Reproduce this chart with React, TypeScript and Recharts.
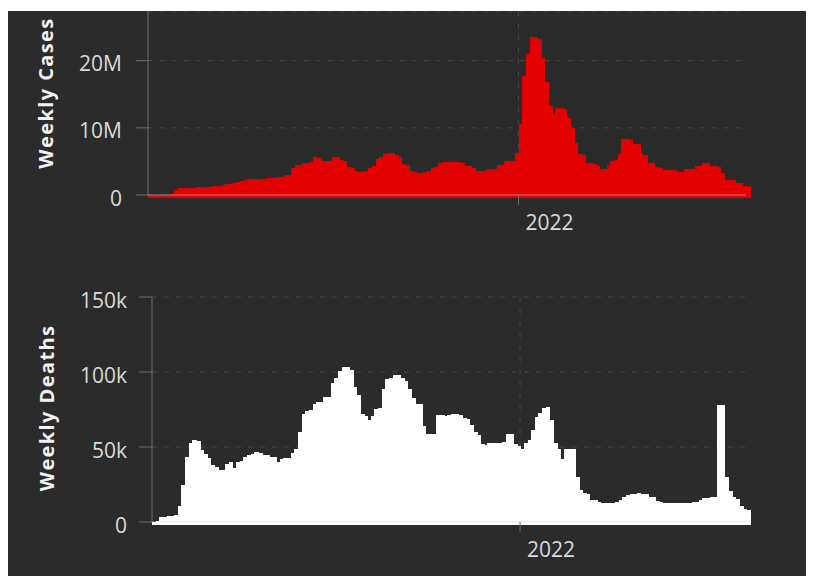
import React from "react";
import { BarChart, Bar, XAxis, YAxis, CartesianGrid } from "recharts";

// weekly totals, first bar = week starting 2020-01-25
const FIRST_WEEK = Date.UTC(2020, 0, 25);
const WEEK_MS = 7 * 24 * 3600 * 1000;
const yearTicks = [Date.UTC(2022, 0, 1)];

// weekly cases, millions
const casesM = [
  0.002, 0.005, 0.01, 0.015, 0.02, 0.04, 0.1, 0.75, 1.0, 1.05,
  1.1, 1.1, 1.1, 1.12, 1.15, 1.15, 1.2, 1.35, 1.4, 1.4,
  1.45, 1.65, 1.7, 1.75, 2.0, 2.05, 2.3, 2.35, 2.4, 2.4,
  2.4, 2.45, 2.5, 2.6, 2.6, 2.65, 2.7, 3.0, 3.05, 4.0,
  4.4, 4.5, 4.8, 4.8, 4.85, 5.6, 5.5, 5.1, 5.0, 5.1,
  5.6, 5.6, 5.2, 5.0, 4.1, 4.0, 3.5, 3.4, 3.4, 3.5,
  4.0, 4.3, 5.3, 5.6, 6.1, 6.2, 6.2, 6.0, 5.6, 4.6,
  4.4, 3.6, 3.4, 3.25, 3.25, 3.4, 3.6, 4.0, 4.1, 4.7,
  4.9, 4.9, 4.9, 4.9, 4.9, 4.8, 4.3, 4.3, 4.0, 3.6,
  3.6, 3.6, 3.8, 3.8, 3.9, 4.4, 4.5, 5.0, 5.0, 5.0,
  6.2, 10.6, 17.7, 21.0, 23.5, 23.5, 23.3, 20.4, 16.9, 13.2,
  12.0, 13.0, 13.0, 12.8, 11.5, 10.0, 7.8, 6.1, 6.0, 4.7,
  4.7, 4.6, 4.3, 3.85, 3.85, 4.4, 5.1, 5.2, 6.1, 8.3,
  8.3, 8.2, 7.6, 7.6, 6.1, 6.0, 4.8, 4.7, 4.1, 4.0,
  3.75, 3.75, 3.75, 3.75, 3.4, 3.4, 3.85, 3.85, 3.9, 4.3,
  4.3, 4.7, 4.7, 4.3, 4.3, 4.2, 3.25, 2.3, 2.3, 2.3,
  1.8, 1.8, 1.4, 1.4,
];

// weekly deaths, thousands
const deathsK = [
  0.3, 0.8, 3.4, 3.6, 3.7, 3.8, 5.0, 11, 25, 43.5,
  53, 54.5, 54, 48, 45.5, 43, 38, 36.5, 35, 34.5,
  39, 40, 36, 40, 40.5, 43.5, 44.5, 45.5, 46.5, 46,
  45, 44.5, 43.5, 43.5, 40, 42, 42.5, 42.5, 46, 49,
  59.8, 71.8, 74, 75, 79, 80, 80, 83.5, 83.5, 93,
  96, 101, 103.5, 103.5, 101.5, 90, 85, 72, 71, 68,
  71, 75.5, 76, 89, 95.5, 96, 98, 98, 96, 94,
  89, 82.5, 79, 78.5, 64, 58.5, 58.5, 58.5, 71.5, 71.5,
  70.5, 71.5, 72, 72, 71.5, 69.5, 68.5, 64.5, 60, 58,
  52, 51.5, 52.5, 53, 53, 53, 53.5, 58.5, 58.5, 52,
  51, 49, 53, 55, 61.5, 70, 73, 76, 76.5, 68,
  52.5, 49, 42, 49, 49, 49, 30, 21.5, 19.5, 18.5,
  15, 14.5, 13.5, 13, 12.8, 12.8, 12.9, 13.2, 15, 17,
  18, 18.5, 19, 19.2, 19, 18.5, 17, 16.5, 14.2, 13.2,
  12.9, 12.8, 12.8, 12.9, 12.9, 12.8, 12.8, 12.9, 13.1, 13.5,
  14.7, 15.8, 16.2, 16.4, 16.6, 78, 78, 30, 21, 16.5,
  15.5, 10.7, 8.5, 8.3,
];

const casesTicks = [0, 10, 20];
const deathsTicks = [0, 50, 100, 150];

const data = casesM.map((c, i) => ({
  week: FIRST_WEEK + i * WEEK_MS,
  cases: c,
  deaths: deathsK[i],
}));
const xDomain = [FIRST_WEEK, FIRST_WEEK + (casesM.length - 1) * WEEK_MS];

const BG = "#2b2b2b";
const RED = "#e30000";
const WHITE = "#ffffff";
const GRID = "#4a4a4a";
const AXIS = "#6e6e6e";
const BASELINE = "rgba(210,210,210,0.55)";
const TEXT = "#dadada";
const FONT = "'Open Sans', sans-serif";

// bars start at their week and run one week wide, dropping a few px under the baseline
const weekBar = (fill: string, step: number) => (p: any) => {
  const left = p.x + p.width / 2;
  return (
    <rect
      x={left}
      y={p.y}
      width={step + 1}
      height={Math.max(p.height || 0, 0) + 3}
      fill={fill}
      shapeRendering="crispEdges"
    />
  );
};

// only the year line, no edge lines
const yearGridLines = ({ offset }: any) =>
  yearTicks.map(
    (t) =>
      offset.left +
      (offset.width * (t - xDomain[0])) / (xDomain[1] - xDomain[0])
  );

const YearTick = (p: any) => (
  <text
    x={p.x + 7}
    y={p.y}
    dy="0.71em"
    textAnchor="start"
    fill={TEXT}
    fontSize={21}
    fontFamily={FONT}
  >
    {new Date(p.payload.value).getUTCFullYear()}
  </text>
);

const valueTick = (unit: string) => (p: any) => (
  <text
    x={p.x}
    y={p.y}
    dy={10.5}
    textAnchor="end"
    fill={TEXT}
    fontSize={21}
    fontFamily={FONT}
  >
    {p.payload.value === 0 ? "0" : `${p.payload.value}${unit}`}
  </text>
);

const axisTitle = (text: string, cx: number, cy: number) => () => (
  <text
    x={cx}
    y={cy}
    transform={`rotate(-90 ${cx} ${cy})`}
    textAnchor="middle"
    dominantBaseline="central"
    fill="#f2f2f2"
    fontSize={20}
    fontWeight={700}
    letterSpacing={1.4}
    fontFamily={FONT}
  >
    {text}
  </text>
);

export default function App() {
  return (
    <div
      style={{
        position: "relative",
        width: 806,
        height: 565,
        marginTop: 3,
        background: BG,
        overflow: "hidden",
      }}
    >
      <div style={{ position: "absolute", left: 0, top: 0 }}>
        <BarChart
          width={806}
          height={240}
          data={data}
          margin={{ top: 0, right: 68, bottom: 0, left: 0 }}
          barCategoryGap={0}
          barGap={0}
        >
          <CartesianGrid
            stroke={GRID}
            strokeDasharray="5 7"
            verticalCoordinatesGenerator={yearGridLines}
          />
          <Bar
            dataKey="cases"
            fill={RED}
            isAnimationActive={false}
            shape={weekBar(RED, 598 / 163)}
          />
          <XAxis
            dataKey="week"
            type="number"
            domain={xDomain}
            ticks={yearTicks}
            height={56}
            stroke={BASELINE}
            tickLine={{ stroke: AXIS }}
            tickSize={10}
            tickMargin={10}
            tick={<YearTick />}
          />
          <YAxis
            domain={[0, 27.4]}
            ticks={casesTicks}
            width={140}
            stroke={AXIS}
            tickSize={12}
            tickMargin={14}
            tick={valueTick("M")}
            label={{ content: axisTitle("Weekly Cases", 37, 82) }}
          />
        </BarChart>
      </div>
      <div style={{ position: "absolute", left: 0, top: 250 }}>
        <BarChart
          width={806}
          height={315}
          data={data}
          margin={{ top: 36, right: 68, bottom: 0, left: 0 }}
          barCategoryGap={0}
          barGap={0}
        >
          <CartesianGrid
            stroke={GRID}
            strokeDasharray="5 7"
            verticalCoordinatesGenerator={yearGridLines}
          />
          <Bar
            dataKey="deaths"
            fill={WHITE}
            isAnimationActive={false}
            shape={weekBar(WHITE, 594 / 163)}
          />
          <XAxis
            dataKey="week"
            type="number"
            domain={xDomain}
            ticks={yearTicks}
            height={54}
            stroke={BASELINE}
            tickLine={{ stroke: AXIS }}
            tickSize={10}
            tickMargin={10}
            tick={<YearTick />}
          />
          <YAxis
            domain={[0, 150]}
            ticks={deathsTicks}
            width={144}
            stroke={AXIS}
            tickSize={13}
            tickMargin={12}
            tick={valueTick("k")}
            label={{ content: axisTitle("Weekly Deaths", 38, 147) }}
          />
        </BarChart>
      </div>
      <div
        style={{
          position: "absolute",
          left: 802,
          top: 0,
          width: 1,
          height: "100%",
          background: "#3a3a3a",
        }}
      />
    </div>
  );
}
